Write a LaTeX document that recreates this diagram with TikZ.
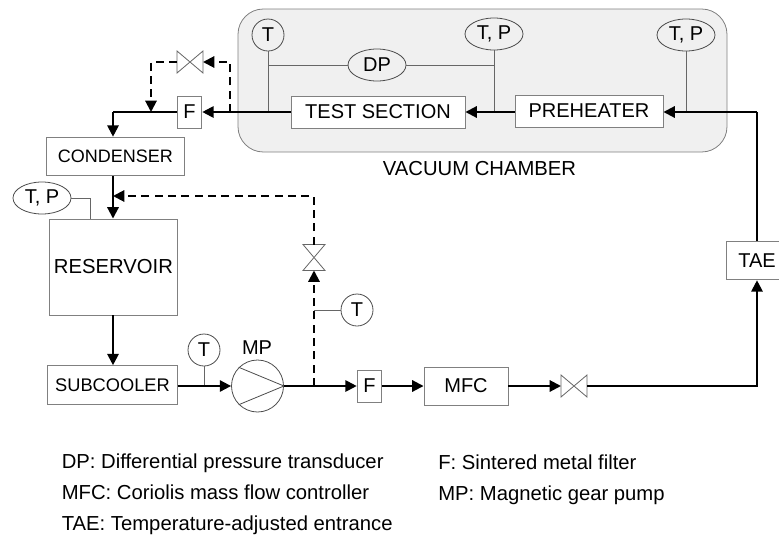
\documentclass[tikz,border=0pt]{standalone}
\usepackage{fontspec}
\setmainfont{Liberation Sans}
\usepackage{tikz}
\usetikzlibrary{calc, arrows.meta, shapes.geometric}
\definecolor{chamberfill}{gray}{0.94}
\definecolor{boxline}{gray}{0.5}
\tikzset{
    flowline/.style={line width=1.5pt, -{Triangle[length=8.5pt,width=8.5pt]}},
    bypassline/.style={flowline, dash pattern=on 6pt off 4pt},
    plainflow/.style={line width=1.5pt},
    probeline/.style={draw=black!60, line width=0.7pt},
    unitbox/.style={draw=boxline, line width=0.7pt, fill=white, inner sep=0pt, text=black, font=\fontsize{15}{15}\selectfont},
    gauge/.style={draw=black!70, line width=0.6pt, circle, minimum size=24pt, inner sep=0pt, font=\fontsize{15}{15}\selectfont},
    gaugeoval/.style={draw=black!70, line width=0.6pt, ellipse, minimum width=43.5pt, minimum height=24pt, inner sep=0pt, font=\fontsize{15}{15}\selectfont},
    note/.style={anchor=base west, inner sep=0pt, font=\fontsize{15.2}{15.2}\selectfont, text=black},
    valveline/.style={draw=black!60, line width=0.6pt, fill=white}
}
\newcommand{\hvalve}[2]{\draw[valveline] ($(#1)+(-13,-11)$) -- ($(#1)+(13,11)$) -- ($(#1)+(13,-11)$) -- ($(#1)+(-13,11)$) -- cycle; \coordinate (#2W) at ($(#1)+(-13,0)$); \coordinate (#2E) at ($(#1)+(13,0)$);}
\newcommand{\vvalve}[2]{\draw[valveline] ($(#1)+(-11,-13)$) -- ($(#1)+(11,13)$) -- ($(#1)+(-11,13)$) -- ($(#1)+(11,-13)$) -- cycle; \coordinate (#2S) at ($(#1)+(0,13)$); \coordinate (#2N) at ($(#1)+(0,-13)$);}
\begin{document}
\begin{tikzpicture}[x=0.75pt, y=-0.75pt]
    \useasboundingbox (0,0) rectangle (779,536);
    % vacuum chamber
    \draw[draw=black!50, line width=0.6pt, fill=chamberfill, rounded corners=19pt] (238,9) rectangle (727,152);
    \node[font=\fontsize{15.2}{15.2}\selectfont] (chamber) at (479.5,169) {VACUUM CHAMBER};
    % units
    \node[unitbox, minimum width=130.5pt, minimum height=24pt] (test) at (378,112) {TEST SECTION};
    \node[unitbox, minimum width=111pt, minimum height=24pt] (pre) at (589,111) {PREHEATER};
    \node[unitbox, minimum width=18.5pt, minimum height=24pt] (ftop) at (189.5,112) {F};
    \node[unitbox, minimum width=103pt, minimum height=29pt, font=\fontsize{13.5}{14}\selectfont] (cond) at (115.5,156.5) {CONDENSER};
    \node[unitbox, minimum width=96.5pt, minimum height=72pt, font=\fontsize{15.2}{16}\selectfont] (res) at (113.5,267) {RESERVOIR};
    \node[unitbox, minimum width=97pt, minimum height=29pt, font=\fontsize{13.7}{14}\selectfont] (sub) at (112.5,385) {SUBCOOLER};
    \node[unitbox, minimum width=18.5pt, minimum height=24pt] (fbot) at (369.5,386) {F};
    \node[unitbox, minimum width=63pt, minimum height=28.5pt] (mfc) at (466,386) {MFC};
    \node[unitbox, minimum width=46.5pt, minimum height=29pt] (tae) at (757,260.5) {TAE};
    % gauges
    \node[gauge] (tA) at (268,35) {T};
    \node[gaugeoval] (tpA) at (494,34) {T, P};
    \node[gaugeoval] (tpB) at (686,35) {T, P};
    \node[gaugeoval] (dp) at (377,65) {DP};
    \node[gaugeoval] (tpC) at (42,198) {T, P};
    \node[gauge] (tB) at (204,350) {T};
    \node[gauge] (tC) at (357,310) {T};
    % pump
    \node[draw=black!70, line width=0.6pt, circle, minimum size=39pt, inner sep=0pt] (mp) at (257.5,386) {};
    \draw[draw=black!70, line width=0.6pt] (mp.east) -- (mp.135) (mp.east) -- (mp.225);
    \node[font=\fontsize{15}{15}\selectfont] (mplabel) at (257,348) {MP};
    % valves
    \hvalve{190,62}{va}
    \vvalve{314,257.5}{vb}
    \hvalve{574,386}{vc}
    % junctions
    \coordinate (jT) at (268,112);
    \coordinate (jTP) at (494,112);
    \coordinate (jTPb) at (686,112);
    \coordinate (jDPl) at (268,65);
    \coordinate (jDPr) at (494,65);
    \coordinate (jRes) at (90,219);
    \coordinate (jSub) at (204,386);
    \coordinate (jPump) at (314,386);
    \coordinate (jProbe) at (314,310);
    \coordinate (jLeft) at (113,112);
    \coordinate (jRight) at (757,112);
    \coordinate (jOutA) at (230,112);
    \coordinate (jTopA) at (230,62);
    \coordinate (jTopB) at (151,62);
    \coordinate (jOutB) at (151,112);
    \coordinate (jTopC) at (314,196);
    \coordinate (jMerge) at (113,196);
    % probes
    \draw[probeline] (tA) -- (jT);
    \draw[probeline] (tpA) -- (jTP);
    \draw[probeline] (tpB) -- (jTPb);
    \draw[probeline] (jDPl) -- (dp) -- (jDPr);
    \draw[probeline] (tpC.east) -| (jRes);
    \draw[probeline] (tB) -- (jSub);
    \draw[probeline] (tC) -- (jProbe);
    % main loop
    \draw[flowline] (pre.west |- test) -- (test);
    \draw[flowline] (test) -- (ftop);
    \draw[plainflow] (ftop) -- (jLeft);
    \draw[flowline] (jLeft) -- (cond.north -| jLeft);
    \draw[flowline] (cond.south -| jLeft) -- (res.north -| jLeft);
    \draw[flowline] (res.south -| jLeft) -- (sub.north -| jLeft);
    \draw[flowline] (sub.east |- mp) -- (mp);
    \draw[flowline] (mp) -- (fbot);
    \draw[flowline] (fbot) -- (mfc);
    \draw[flowline] (mfc) -- (vcW);
    \draw[flowline] (vcE) -| (tae);
    \draw[plainflow] (tae) -- (jRight);
    \draw[flowline] (jRight) -- (pre.east |- jRight);
    % bypass
    \draw[bypassline] (jOutA) -- (jTopA) -- (vaE);
    \draw[bypassline] (vaW) -- (jTopB) -- (jOutB);
    \draw[bypassline] (jPump) -- (vbS);
    \draw[bypassline] (vbN) -- (jTopC) -- (jMerge);
    % legend
    \node[note] (n1) at (61.5,468) {DP: Differential pressure transducer};
    \node[note] (n2) at (61.5,499) {MFC: Coriolis mass flow controller};
    \node[note] (n3) at (61.5,530) {TAE: Temperature-adjusted entrance};
    \node[note] (n4) at (438,469) {F: Sintered metal filter};
    \node[note] (n5) at (438,500) {MP: Magnetic gear pump};
\end{tikzpicture}
\end{document}
